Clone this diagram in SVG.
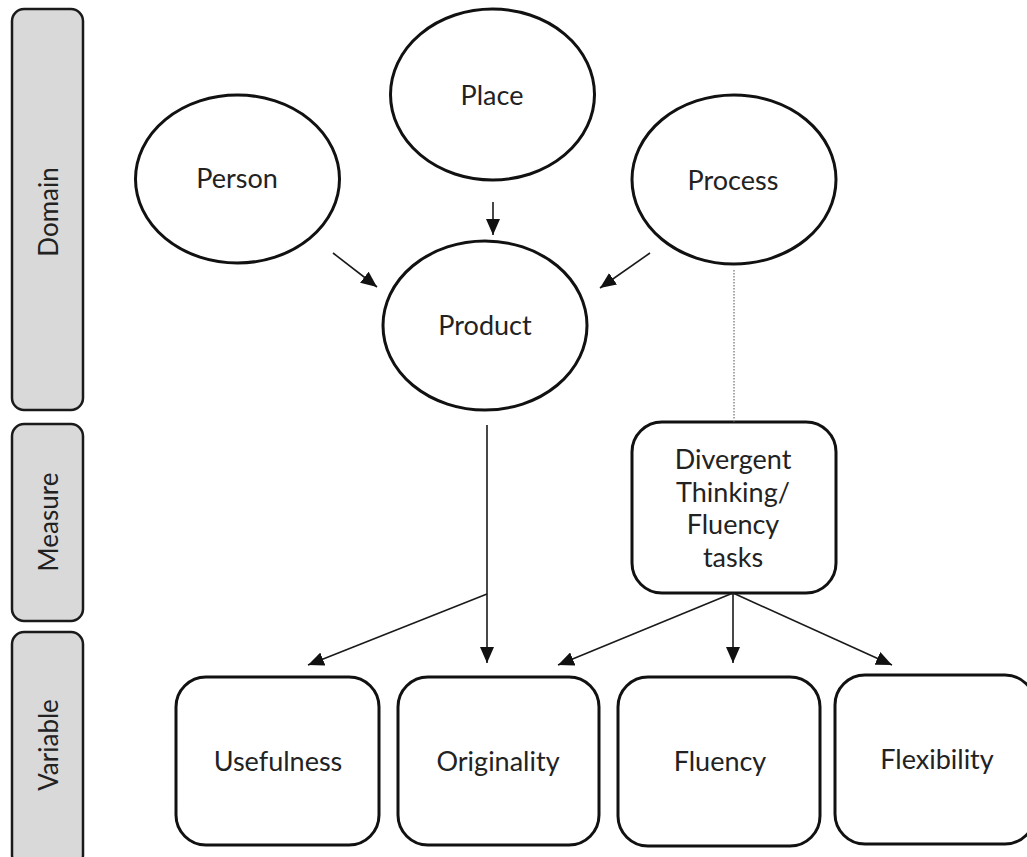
<svg xmlns="http://www.w3.org/2000/svg" width="1027" height="857" viewBox="0 0 1027 857">
<style>
.bar{fill:#d9d9d9;stroke:#1a1a1a;stroke-width:2.5}
.node{fill:#fff;stroke:#111;stroke-width:3}
.lbl{font-family:Lato,"Open Sans",sans-serif;font-size:27px;fill:#222;text-anchor:middle}
.side{font-family:Lato,"Open Sans",sans-serif;font-size:26px;fill:#222;text-anchor:middle}
.conn{fill:none;stroke:#1a1a1a;stroke-width:1.6}
.dot{fill:none;stroke:#8a8a8a;stroke-width:1.5;stroke-dasharray:1.5 1.5}
</style>
<defs>
<marker id="ah" viewBox="0 0 16 14" refX="16" refY="7" markerWidth="16" markerHeight="14" markerUnits="userSpaceOnUse" orient="auto">
<path d="M0,0 L16,7 L0,14 z" fill="#111"/>
</marker>
</defs>
<rect width="1027" height="857" fill="#fff"/>
<g id="bar-domain"><rect class="bar" x="12" y="9" width="71" height="401" rx="12"/><text class="side" transform="translate(58,212) rotate(-90)">Domain</text></g>
<g id="bar-measure"><rect class="bar" x="12" y="424" width="71" height="197" rx="12"/><text class="side" transform="translate(58,522) rotate(-90)">Measure</text></g>
<g id="bar-variable"><rect class="bar" x="12" y="632" width="71" height="235" rx="12"/><text class="side" transform="translate(58,745) rotate(-90)">Variable</text></g>
<g id="person"><ellipse class="node" cx="237.5" cy="179" rx="102" ry="84"/><text class="lbl" x="237" y="188">Person</text></g>
<g id="place"><ellipse class="node" cx="492.5" cy="94.5" rx="102" ry="85.5"/><text class="lbl" x="492" y="105">Place</text></g>
<g id="process"><ellipse class="node" cx="734" cy="179.5" rx="102" ry="84.5"/><text class="lbl" x="733" y="190">Process</text></g>
<g id="product"><ellipse class="node" cx="485" cy="325.5" rx="102" ry="84.5"/><text class="lbl" x="485" y="335">Product</text></g>
<g id="divergent"><rect class="node" x="632" y="422" width="204" height="171" rx="30"/><text class="lbl" x="733" y="469">Divergent</text><text class="lbl" x="733" y="501.5">Thinking/</text><text class="lbl" x="733" y="534">Fluency</text><text class="lbl" x="733" y="566.5">tasks</text></g>
<g id="usefulness"><rect class="node" x="176" y="677" width="203" height="168" rx="30"/><text class="lbl" x="278" y="771">Usefulness</text></g>
<g id="originality"><rect class="node" x="398" y="677" width="201" height="168" rx="30"/><text class="lbl" x="498" y="771">Originality</text></g>
<g id="fluency"><rect class="node" x="618" y="677" width="202" height="169" rx="30"/><text class="lbl" x="720" y="771">Fluency</text></g>
<g id="flexibility"><rect class="node" x="835" y="675" width="200" height="169" rx="30"/><text class="lbl" x="937" y="769">Flexibility</text></g>
<g id="connectors">
<path class="conn" d="M333,253 L377,287" marker-end="url(#ah)"/>
<path class="conn" d="M493,202 L493,235" marker-end="url(#ah)"/>
<path class="conn" d="M650,253 L600,288" marker-end="url(#ah)"/>
<path class="dot" d="M734,270 L734,422"/>
<path class="conn" d="M487,425 L487,663" marker-end="url(#ah)"/>
<path class="conn" d="M487,594 L308,665" marker-end="url(#ah)"/>
<path class="conn" d="M733,593 L558,665" marker-end="url(#ah)"/>
<path class="conn" d="M733,593 L733,663" marker-end="url(#ah)"/>
<path class="conn" d="M733,593 L892,665" marker-end="url(#ah)"/>
</g>
</svg>
